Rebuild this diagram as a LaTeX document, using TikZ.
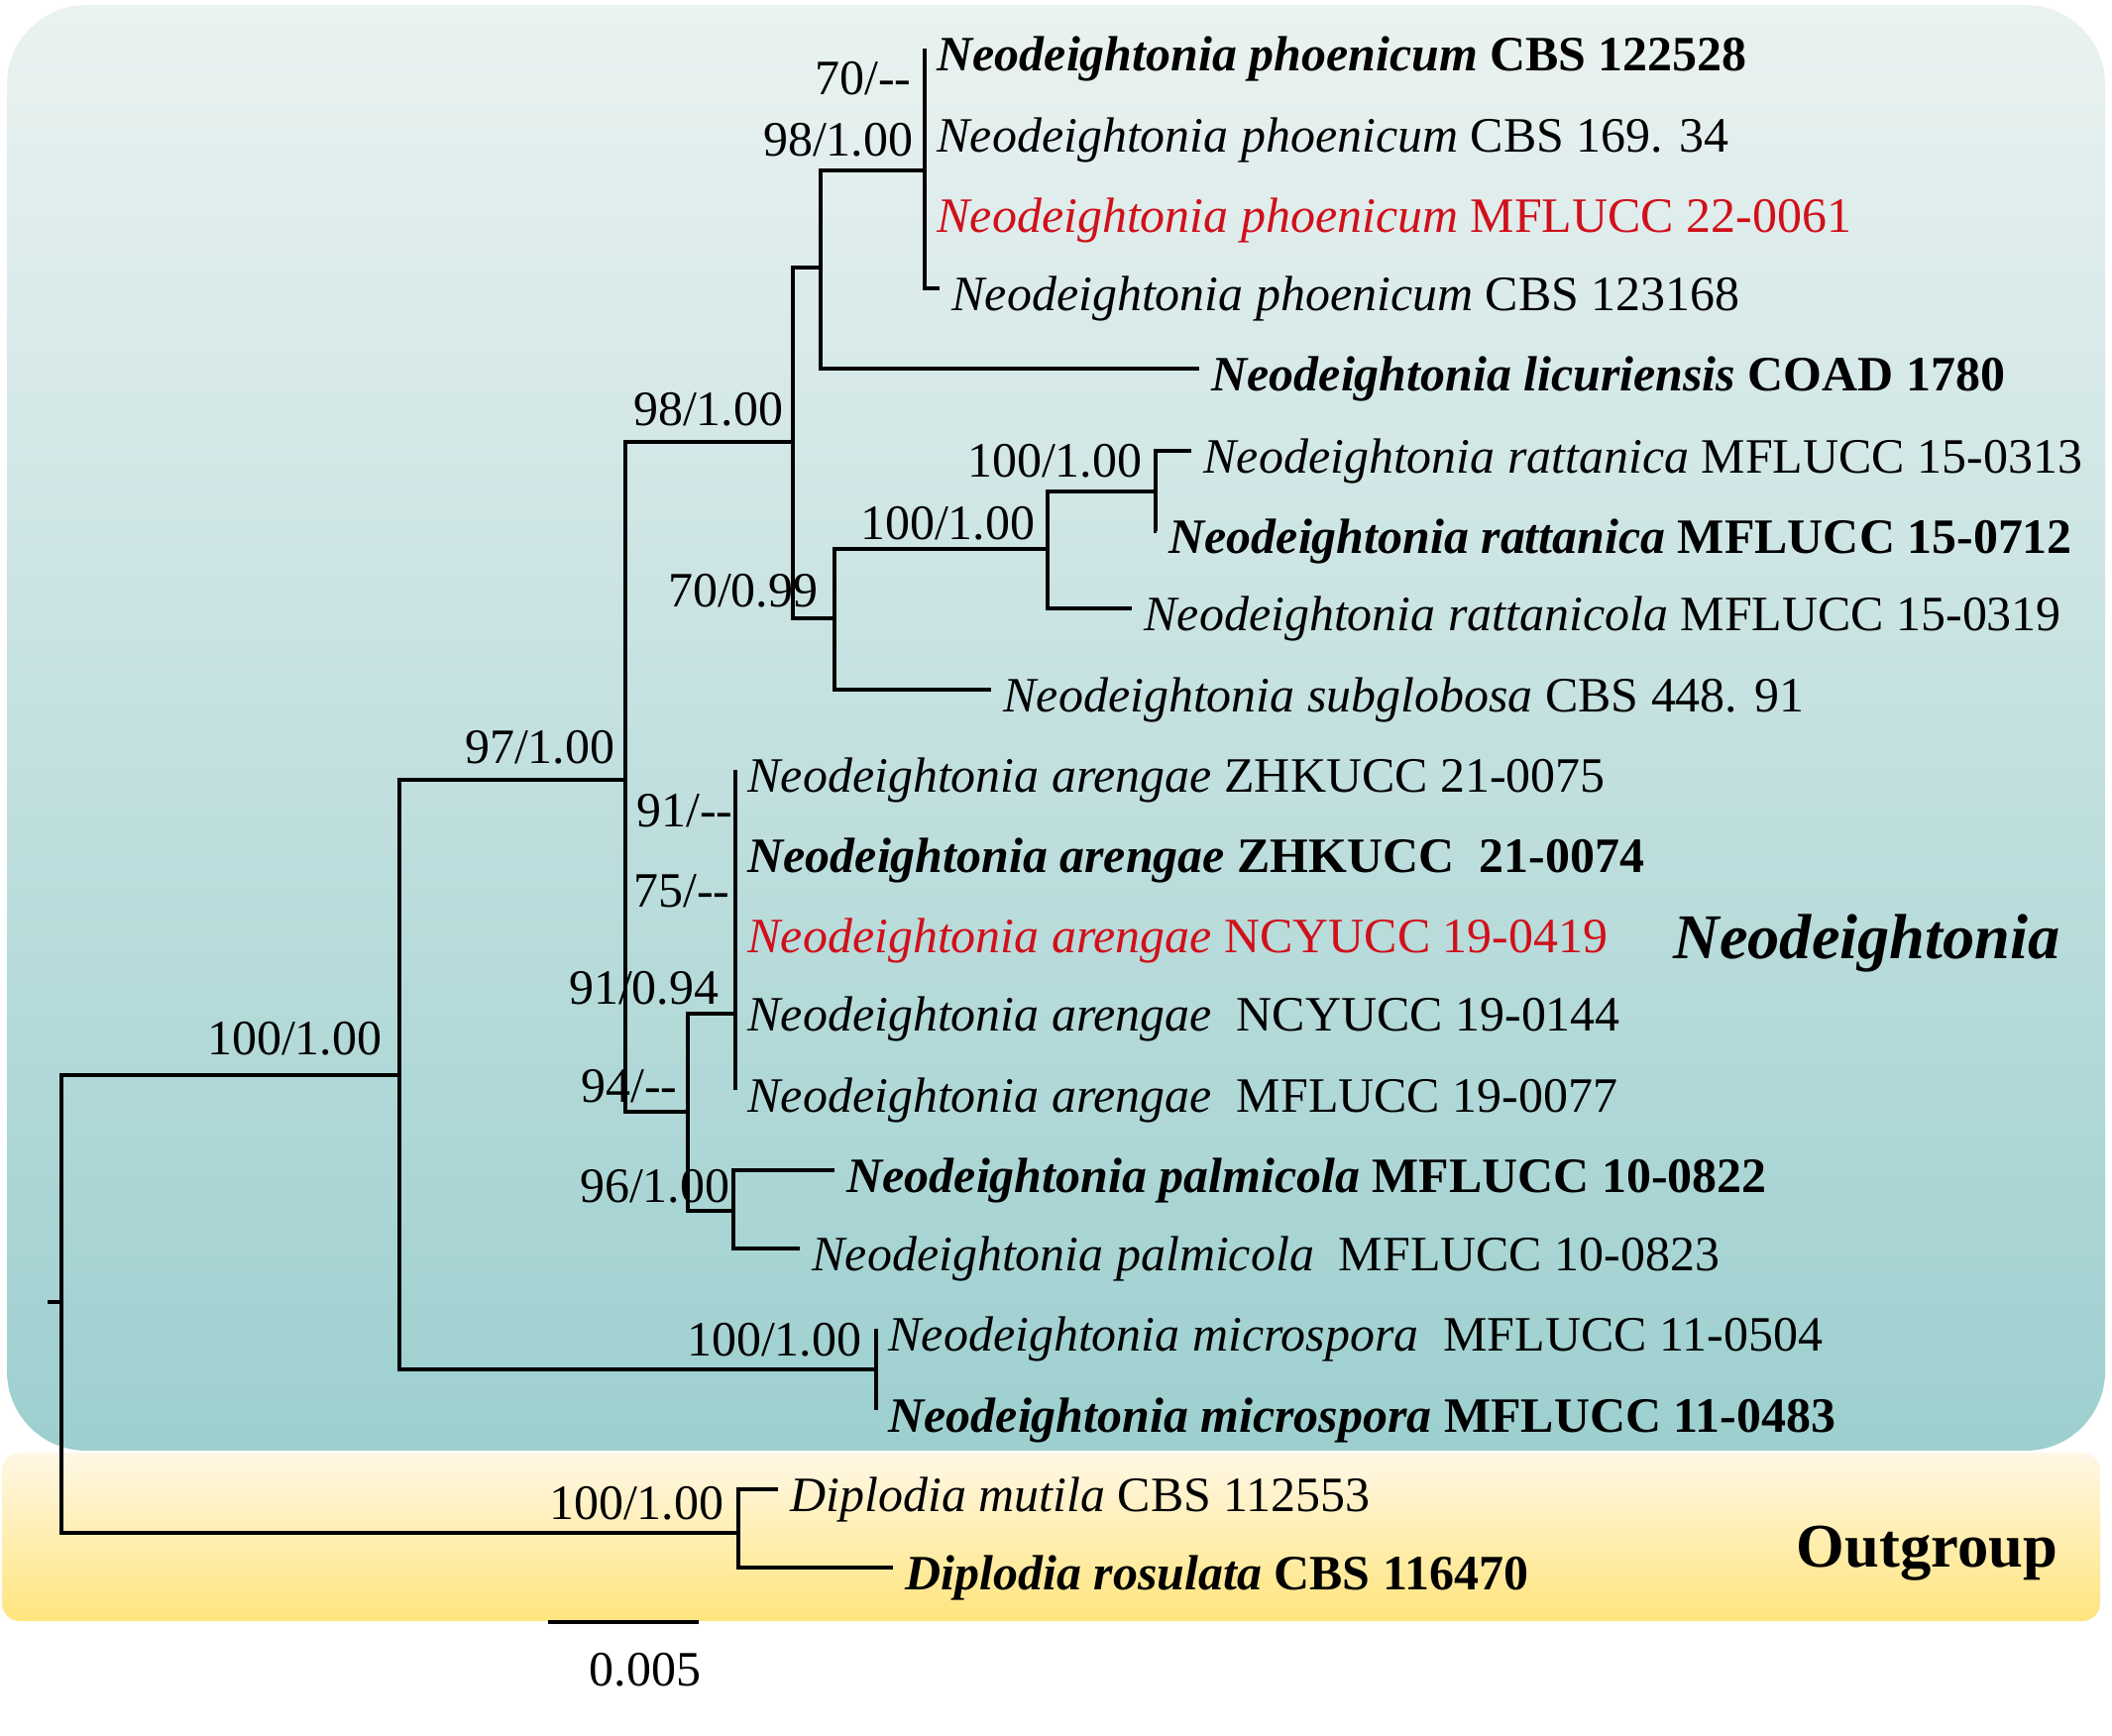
\documentclass[tikz,border=0pt]{standalone}
\usepackage{fontspec}
\setmainfont{Liberation Serif}
\usetikzlibrary{calc,positioning}
\definecolor{bluetop}{RGB}{234,242,241}
\definecolor{bluebot}{RGB}{157,207,207}
\definecolor{yeltop}{RGB}{255,247,230}
\definecolor{yelbot}{RGB}{255,229,125}
\definecolor{newred}{RGB}{208,16,26}
\begin{document}
\begin{tikzpicture}[x=0.01cm,y=-0.01cm,every node/.style={inner sep=0pt,font=\fontsize{14.2}{17}\selectfont},
     leaf/.style={anchor=west,inner xsep=3.4pt,text height=2.8ex,text depth=0pt},
     bs/.style={anchor=east},new/.style={text=newred},
     every edge/.style={draw,line width=0.95pt,to path={|- (\tikztotarget)}}]
     \useasboundingbox (0,0) rectangle (2131,1751);
     \shade[top color=yeltop,bottom color=yelbot,rounded corners=0.18cm] (2,1466) rectangle (2119,1636);
     \shade[top color=bluetop,bottom color=bluebot,rounded corners=0.8cm] (7,5) rectangle (2124,1464);
     \coordinate (base) at (48,1314);
     \coordinate (root) at (62,1314);
     \coordinate (N1) at (403,1085);
     \coordinate (N2) at (631,787);
     \coordinate (N3) at (800,446);
     \coordinate (Nlic) at (828,270);
     \coordinate (P) at (933,172);
     \coordinate (N5) at (842,624);
     \coordinate (Nratt) at (1057,554);
     \coordinate (Nr2) at (1166,496);
     \coordinate (Narp) at (694,1122);
     \coordinate (Nar) at (742,1023);
     \coordinate (Npal) at (740,1222);
     \coordinate (Nmic) at (884,1382);
     \coordinate (Nout) at (745,1547);
     \node at (933,49)[leaf](l0){\textbf{\textit{Neodeightonia phoenicum} CBS 122528}};
     \node at (933,131)[leaf](l1){\textit{Neodeightonia phoenicum} CBS 169. 34};
     \node at (933,212)[leaf,new](l2){\textit{Neodeightonia phoenicum} MFLUCC 22-0061};
     \node at (948,291)[leaf](l3){\textit{Neodeightonia phoenicum} CBS 123168};
     \node at (1210,372)[leaf](l4){\textbf{\textit{Neodeightonia licuriensis} COAD 1780}};
     \node at (1202,455)[leaf](l5){\textit{Neodeightonia rattanica} MFLUCC 15-0313};
     \node at (1167,536)[leaf](l6){\textbf{\textit{Neodeightonia rattanica} MFLUCC 15-0712}};
     \node at (1142,614)[leaf](l7){\textit{Neodeightonia rattanicola} MFLUCC 15-0319};
     \node at (1000,696)[leaf](l8){\textit{Neodeightonia subglobosa} CBS 448. 91};
     \node at (742,777)[leaf](l9){\textit{Neodeightonia arengae} ZHKUCC 21-0075};
     \node at (742,858)[leaf](l10){\textbf{\textit{Neodeightonia arengae} ZHKUCC\ \ 21-0074}};
     \node at (742,939)[leaf,new](l11){\textit{Neodeightonia arengae} NCYUCC 19-0419};
     \node at (742,1018)[leaf](l12){\textit{Neodeightonia arengae}\ \ NCYUCC 19-0144};
     \node at (742,1100)[leaf](l13){\textit{Neodeightonia arengae}\ \ MFLUCC 19-0077};
     \node at (842,1181)[leaf](l14){\textbf{\textit{Neodeightonia palmicola} MFLUCC 10-0822}};
     \node at (807,1260)[leaf](l15){\textit{Neodeightonia palmicola}\ \ MFLUCC 10-0823};
     \node at (884,1341)[leaf](l16){\textit{Neodeightonia microspora}\ \ MFLUCC 11-0504};
     \node at (884,1423)[leaf](l17){\textbf{\textit{Neodeightonia microspora} MFLUCC 11-0483}};
     \node at (785,1503)[leaf](l18){\textit{Diplodia mutila} CBS 112553};
     \node at (901,1582)[leaf](l19){\textbf{\textit{Diplodia rosulata} CBS 116470}};
     \path(base)edge(root);
     \path(root)edge(N1)edge(Nout);
     \path(N1)edge(N2)edge(Nmic);
     \path(N2)edge(N3)edge(Narp);
     \path(N3)edge(Nlic)edge(N5);
     \path(Nlic)edge(P)edge(l4.west);
     \path(P)edge(l0.west)edge(l1.west)edge(l2.west)edge(l3.west);
     \path(N5)edge(Nratt)edge(l8.west);
     \path(Nratt)edge(Nr2)edge(l7.west);
     \path(Nr2)edge(l5.west)edge(l6.west);
     \path(Narp)edge(Nar)edge(Npal);
     \path(Nar)edge(l9.west)edge(l10.west)edge(l11.west)edge(l12.west)edge(l13.west);
     \path(Npal)edge(l14.west)edge(l15.west);
     \path(Nmic)edge(l16.west)edge(l17.west);
     \path(Nout)edge(l18.west)edge(l19.west);
     \node at ($(P)+(-13,-93)$)[bs](bsP1){70/-{}-};
     \node at ($(P)+(-11,-31)$)[bs](bsP){98/1.00};
     \node at ($(N3)+(-9,-33)$)[bs](bsN3){98/1.00};
     \node at ($(Nr2)+(-13,-31)$)[bs](bsNr2){100/1.00};
     \node at ($(Nratt)+(-12,-26)$)[bs](bsNratt){100/1.00};
     \node at ($(N5)+(-16,-28)$)[bs](bsN5){70/0.99};
     \node at ($(N2)+(-10,-33)$)[bs](bsN2){97/1.00};
     \node at ($(Nar)+(-2,-205)$)[bs](bsNar1){91/-{}-};
     \node at ($(Nar)+(-5,-124)$)[bs](bsNar2){75/-{}-};
     \node at ($(Nar)+(-16,-26)$)[bs](bsNar){91/0.94};
     \node at ($(Narp)+(-10,-26)$)[bs](bsNarp){94/-{}-};
     \node at ($(Npal)+(-3,-25)$)[bs](bsNpal){96/1.00};
     \node at ($(N1)+(-17,-37)$)[bs](bsN1){100/1.00};
     \node at ($(Nmic)+(-14,-30)$)[bs](bsNmic){100/1.00};
     \node at ($(Nout)+(-14,-30)$)[bs](bsNout){100/1.00};
     \node at (1688,952)[anchor=west,font=\fontsize{18.3}{22}\selectfont\bfseries\itshape](neo){Neodeightonia};
     \node at (1812,1568)[anchor=west,font=\fontsize{17.8}{22}\selectfont\bfseries](out){Outgroup};
     \coordinate (s1) at (553,1637);
     \coordinate (s2) at (705,1637);
     \draw[line width=1.2pt](s1)--(s2);
     \node at (651,1685)(scale){0.005};
\end{tikzpicture}
\end{document}
